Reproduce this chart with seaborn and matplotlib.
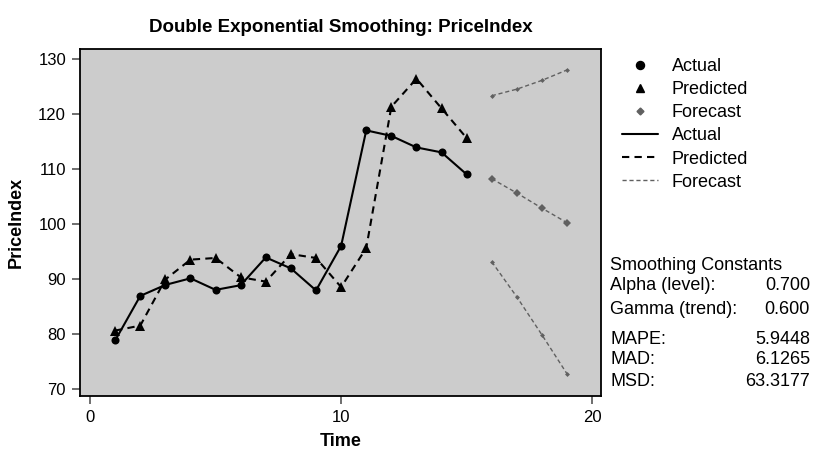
import pandas as pd
import seaborn as sns
import matplotlib
matplotlib.use("Agg")
import matplotlib.pyplot as plt
from matplotlib.lines import Line2D
from matplotlib import font_manager as fm

time = list(range(1, 16))
actual = [78.8, 86.9, 88.9, 90.1, 88.0, 88.85, 93.9, 91.9, 87.9, 96.0, 117.0, 116.0, 113.9, 113.0, 109.0]
predicted = [80.6, 81.5, 89.9, 93.5, 93.8, 90.3, 89.5, 94.5, 93.8, 88.5, 95.6, 121.3, 126.4, 121.0, 115.6]
fc_time = [16, 17, 18, 19]
forecast = [108.2, 105.6, 102.85, 100.2]
upper = [123.3, 124.5, 126.1, 128.0]
lower = [93.1, 86.7, 79.8, 72.7]

stats_labels = ["MAPE:", "MAD:", "MSD:"]
stats_values = ["5.9448", "6.1265", "63.3177"]

sns.set_theme(style="ticks")
plt.rcParams["font.family"] = ["Liberation Sans", "DejaVu Sans"]
plt.rcParams["text.color"] = "black"
plt.rcParams["axes.labelcolor"] = "black"

# condensed bold title if the narrow face is there
font_names = {f.name for f in fm.fontManager.ttflist}
if "Liberation Sans Narrow" in font_names:
    title_family, title_size = "Liberation Sans Narrow", 15.5
else:
    title_family, title_size = "Liberation Sans", 13.5

fc_color = "#606060"

fig = plt.figure(figsize=(8.15, 4.54), dpi=100)
ax = fig.add_axes([80 / 815, 1 - 396 / 454, 521 / 815, 347 / 454])
ax.set_facecolor("#cccccc")

sns.lineplot(x=time, y=actual, ax=ax, color="black", linewidth=1.5,
             marker="o", markersize=5.8, markeredgewidth=0)
sns.lineplot(x=time, y=predicted, ax=ax, color="black", linewidth=1.5,
             linestyle=(0, (3.5, 2.5)), marker="^", markersize=6.5, markeredgewidth=0)
sns.lineplot(x=fc_time, y=forecast, ax=ax, color=fc_color, linewidth=1.0,
             linestyle=(0, (3, 2)), marker="D", markersize=4, markeredgewidth=0)
for bound in (upper, lower):
    sns.lineplot(x=fc_time, y=bound, ax=ax, color=fc_color, linewidth=1.0,
                 linestyle=(0, (3, 2)), marker="D", markersize=2.5, markeredgewidth=0)

ax.set_xlim(-0.4, 20.35)
ax.set_ylim(68.7, 131.8)
ax.set_xticks([0, 10, 20])
ax.set_yticks([70, 80, 90, 100, 110, 120, 130])
ax.tick_params(axis="both", labelsize=12, length=6, width=1.2, color="#555555",
               direction="out", pad=4, labelcolor="black")
for sp in ax.spines.values():
    sp.set_visible(True)
    sp.set_color("black")
    sp.set_linewidth(1.3)
ax.grid(False)

ax.set_xlabel("Time", fontsize=13, fontweight="bold", labelpad=6)
ax.set_ylabel("PriceIndex", fontsize=13, fontweight="bold", labelpad=10)

fig.text(341 / 815, 1 - 27 / 454, "Double Exponential Smoothing: PriceIndex",
         ha="center", va="center", fontsize=title_size, fontweight="bold",
         family=[title_family, "DejaVu Sans"])

handles = [
    Line2D([], [], color="black", marker="o", linestyle="none", markersize=5.8),
    Line2D([], [], color="black", marker="^", linestyle="none", markersize=5.5),
    Line2D([], [], color=fc_color, marker="D", linestyle="none", markersize=3.5),
    Line2D([], [], color="black", linewidth=1.5),
    Line2D([], [], color="black", linewidth=1.5, linestyle=(0, (3.5, 2.5))),
    Line2D([], [], color=fc_color, linewidth=1.0, linestyle=(0, (3, 2))),
]
labels = ["Actual", "Predicted", "Forecast", "Actual", "Predicted", "Forecast"]
fig.legend(handles, labels, loc="upper left", bbox_to_anchor=(622 / 815, 1 - 58 / 454),
           frameon=False, fontsize=13, handlelength=2.0, handletextpad=0.75,
           labelspacing=0.34, borderaxespad=0, borderpad=0)

fs = 13
x0 = 610 / 815
x1 = 810 / 815
fig.text(x0, 1 - 265 / 454, "Smoothing Constants", fontsize=fs, va="center")
fig.text(x0, 1 - 286 / 454, "Alpha (level):", fontsize=fs, va="center")
fig.text(x1, 1 - 286 / 454, "0.700", fontsize=fs, va="center", ha="right")
fig.text(x0, 1 - 310 / 454, "Gamma (trend):", fontsize=fs, va="center")
fig.text(x1, 1 - 310 / 454, "0.600", fontsize=fs, va="center", ha="right")
for i, (lab, val) in enumerate(zip(stats_labels, stats_values)):
    y = 1 - (339 + 21 * i) / 454
    fig.text(x0, y, lab, fontsize=fs, va="center")
    fig.text(x1, y, val, fontsize=fs, va="center", ha="right")

plt.savefig("out.png", dpi=100)
